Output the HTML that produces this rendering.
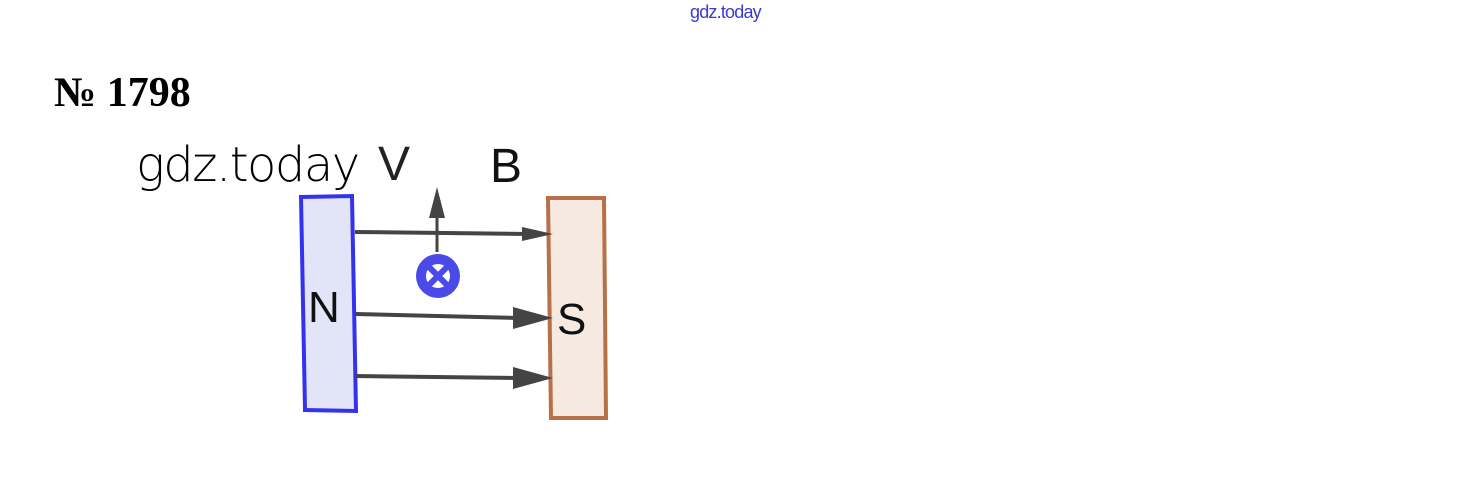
<!DOCTYPE html>
<html><head><style>
body{margin:0;width:1466px;height:501px;background:#fff;position:relative;overflow:hidden}
.t{position:absolute;white-space:nowrap}
</style></head><body>
<div class="t" style="left:690px;top:2px;font:18px 'Liberation Sans',sans-serif;color:#3a3ad0;letter-spacing:-0.8px">gdz.today</div>
<div class="t" style="left:54px;top:69px;font:bold 42px 'Liberation Serif',serif;color:#000">№ 1798</div>
<div class="t" style="left:136px;top:137px;font:48px 'DejaVu Sans',sans-serif;font-weight:200;color:#000;letter-spacing:-1.5px">gdz.today</div>
<svg width="1466" height="501" style="position:absolute;left:0;top:0">
<polygon points="301,197 352,196 356,411 305,410" fill="#e2e4f7" stroke="#3333ee" stroke-width="4"/>
<polygon points="548,198 604,198 606,418 551,418" fill="#f6e9e0" stroke="#b87048" stroke-width="4"/>
<text x="308" y="322" font-family="Liberation Sans,sans-serif" font-size="44" fill="#111">N</text>
<text x="557" y="334" font-family="Liberation Sans,sans-serif" font-size="44" fill="#111">S</text>
<text x="378" y="180" font-family="Liberation Sans,sans-serif" font-size="48" fill="#222">V</text>
<text x="490" y="182" font-family="Liberation Sans,sans-serif" font-size="48" fill="#111">B</text>
<g stroke="#444" stroke-width="4" fill="#444">
<line x1="355" y1="232" x2="530" y2="234"/>
<polygon points="522,227 553,234 522,241" stroke="none"/>
<line x1="355" y1="314" x2="520" y2="318"/>
<polygon points="513,307 553,318 513,329" stroke="none"/>
<line x1="355" y1="376" x2="520" y2="378"/>
<polygon points="513,367 553,378 513,389" stroke="none"/>
<line x1="437" y1="252" x2="437" y2="210" stroke-width="3"/>
<polygon points="429,218 437,187 445,218" stroke="none"/>
</g>
<circle cx="438" cy="276" r="22" fill="#4a4ae8"/>
<circle cx="438" cy="276" r="12" fill="#fff"/>
<line x1="429" y1="267" x2="447" y2="285" stroke="#4a4ae8" stroke-width="6"/>
<line x1="447" y1="267" x2="429" y2="285" stroke="#4a4ae8" stroke-width="6"/>
</svg>
</body></html>
